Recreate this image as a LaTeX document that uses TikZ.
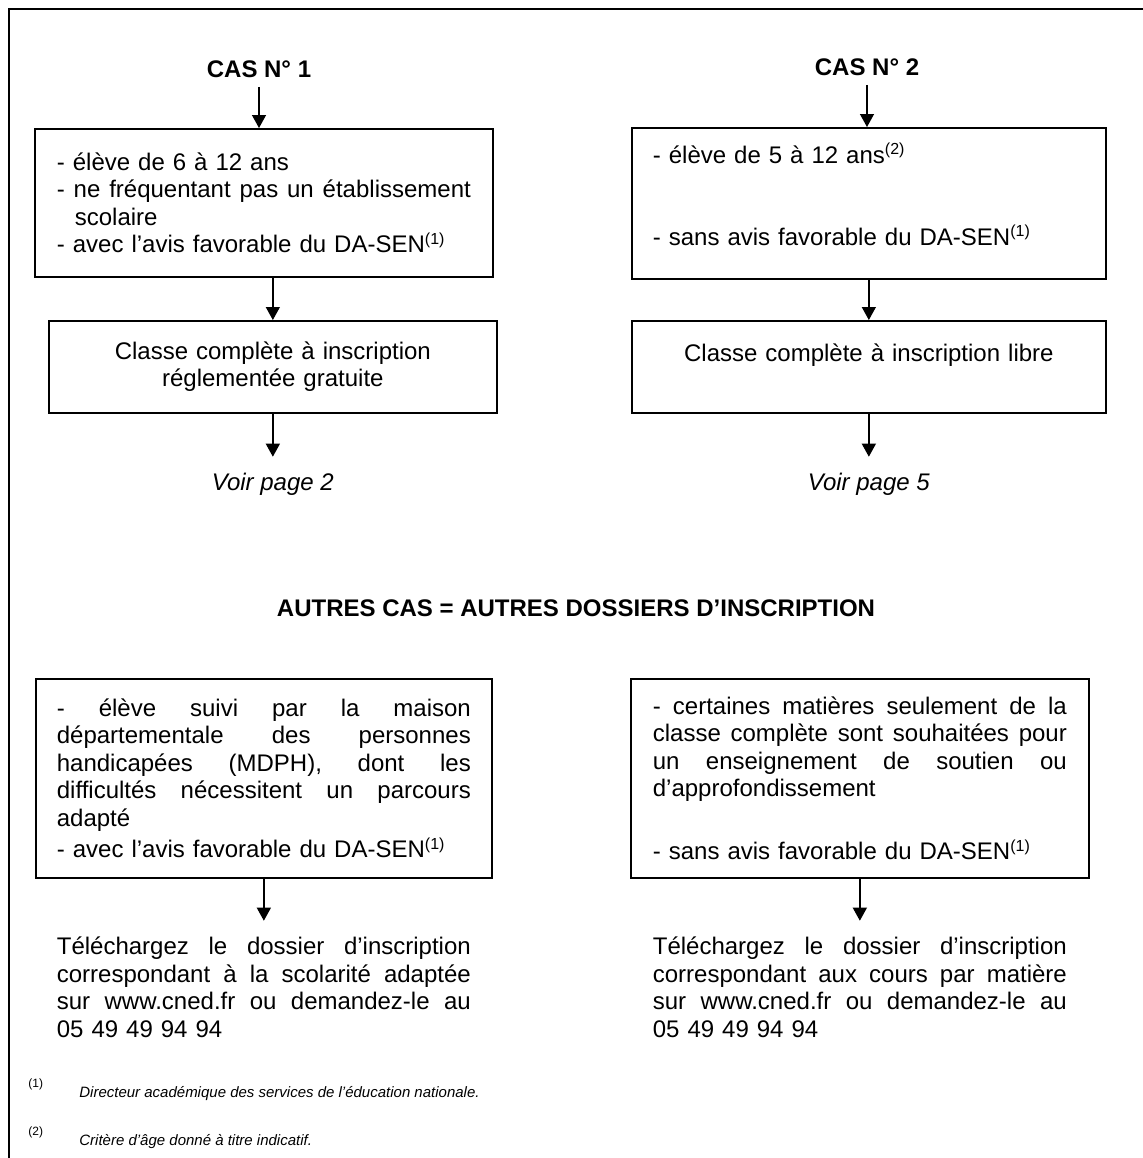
\documentclass[tikz,border=0pt]{standalone}
\usepackage{fontspec}
\setmainfont{Liberation Sans}
\usetikzlibrary{positioning,arrows.meta}

\newlength{\jwidth}
\setlength{\jwidth}{207pt}
\newcommand{\jline}[1]{{\spaceskip=0pt\xspaceskip=0pt\makebox[\jwidth][s]{#1}}}

\tikzset{
  titre/.style={font=\fontsize{12}{14}\selectfont\bfseries, inner sep=0pt},
  boite/.style={draw, line width=0.85pt, rectangle, inner sep=0pt, anchor=north west,
                text width=207pt, align=left, font=\fontsize{12}{13.75}\selectfont},
  texte/.style={inner sep=0pt, text width=207pt, align=left, font=\fontsize{12}{13.75}\selectfont},
  voir/.style={inner sep=0pt, font=\fontsize{12}{13.75}\selectfont\itshape},
  fleche/.style={-{Triangle[width=7pt,length=6.5pt]}, line width=0.65pt},
  note/.style={inner sep=0pt, anchor=base west, font=\fontsize{7.5}{9}\selectfont\itshape},
  renvoi/.style={inner sep=0pt, anchor=base west, font=\fontsize{6}{7}\selectfont},
}

\begin{document}
\begin{tikzpicture}[x=0.5pt, y=-0.5pt]
  \useasboundingbox (0,0) rectangle (1143,1158);
  % Cadre
  \draw[line width=1.3pt] (9,1158) -- (9,9) -- (1143,9);

  % Cas n° 1
  \node[titre] (cas1) at (259,69) {CAS N° 1};
  \node[boite, minimum width=229pt, minimum height=74pt] (casun) at (34,128)
    {- élève de 6 à 12 ans\\
     \jline{- ne fréquentant pas un établissement}\\
     \hspace*{9pt}scolaire\\
     - avec l’avis favorable du DA-SEN\textsuperscript{(1)}};
  \node[boite, minimum width=224pt, minimum height=46pt, align=center] (classeun) at (48,320)
    {Classe complète à inscription\\réglementée gratuite};
  \node[voir] (voirun) [below=29.5pt of classeun] {Voir page 2};

  % Cas n° 2
  \node[titre] (cas2) at (867,67) {CAS N° 2};
  \node[boite, minimum width=237pt, minimum height=75.5pt, text width=216pt] (casdeux) at (631,127)
    {- élève de 5 à 12 ans\textsuperscript{(2)}\\[27.5pt]
     - sans avis favorable du DA-SEN\textsuperscript{(1)}\\[-4.5pt]\mbox{}};
  \node[boite, minimum width=237pt, minimum height=46pt, align=center] (classedeux) at (631,320)
    {Classe complète à inscription libre\\\mbox{}};
  \node[voir] (voirdeux) [below=29.5pt of classedeux] {Voir page 5};

  % Autres cas
  \node[titre] (autres) at (576,608) {AUTRES CAS = AUTRES DOSSIERS D’INSCRIPTION};
  \node[boite, minimum width=228pt, minimum height=99.5pt] (mdph) at (35,678)
    {\jline{- élève suivi par la maison}\\
     \jline{départementale des personnes}\\
     \jline{handicapées (MDPH), dont les}\\
     \jline{difficultés nécessitent un parcours}\\
     adapté\\[2pt]
     - avec l’avis favorable du DA-SEN\textsuperscript{(1)}};
  \node[texte] (telechun) [below=29pt of mdph]
    {\jline{Téléchargez le dossier d’inscription}\\
     \jline{correspondant à la scolarité adaptée}\\
     \jline{sur www.cned.fr ou demandez-le au}\\
     05 49 49 94 94};
  \node[boite, minimum width=229pt, minimum height=99.5pt] (matieres) at (630,678)
    {\jline{- certaines matières seulement de la}\\
     \jline{classe complète sont souhaitées pour}\\
     \jline{un enseignement de soutien ou}\\
     d’approfondissement\\[17.75pt]
     - sans avis favorable du DA-SEN\textsuperscript{(1)}};
  \node[texte] (telechdeux) [below=29pt of matieres]
    {\jline{Téléchargez le dossier d’inscription}\\
     \jline{correspondant aux cours par matière}\\
     \jline{sur www.cned.fr ou demandez-le au}\\
     05 49 49 94 94};

  % Fleches
  \draw[fleche, shorten <=4.5pt] (cas1.south) -- (cas1.south |- casun.north);
  \draw[fleche] (classeun.north |- casun.south) -- (classeun.north);
  \draw[fleche, shorten >=8pt] (classeun.south) -- (voirun.north);
  \draw[fleche, shorten <=4.5pt] (cas2.south) -- (cas2.south |- casdeux.north);
  \draw[fleche] (casdeux.south) -- (classedeux.north);
  \draw[fleche, shorten >=8pt] (classedeux.south) -- (voirdeux.north);
  \draw[fleche, shorten >=8pt] (mdph.south) -- (telechun.north);
  \draw[fleche, shorten >=8pt] (matieres.south) -- (telechdeux.north);

  % Renvois
  \node[renvoi] (r1) at (28,1087) {(1)};
  \node[note] (n1) at (79,1097) {Directeur académique des services de l’éducation nationale.};
  \node[renvoi] (r2) at (28,1135) {(2)};
  \node[note] (n2) at (79,1145) {Critère d’âge donné à titre indicatif.};
\end{tikzpicture}
\end{document}
